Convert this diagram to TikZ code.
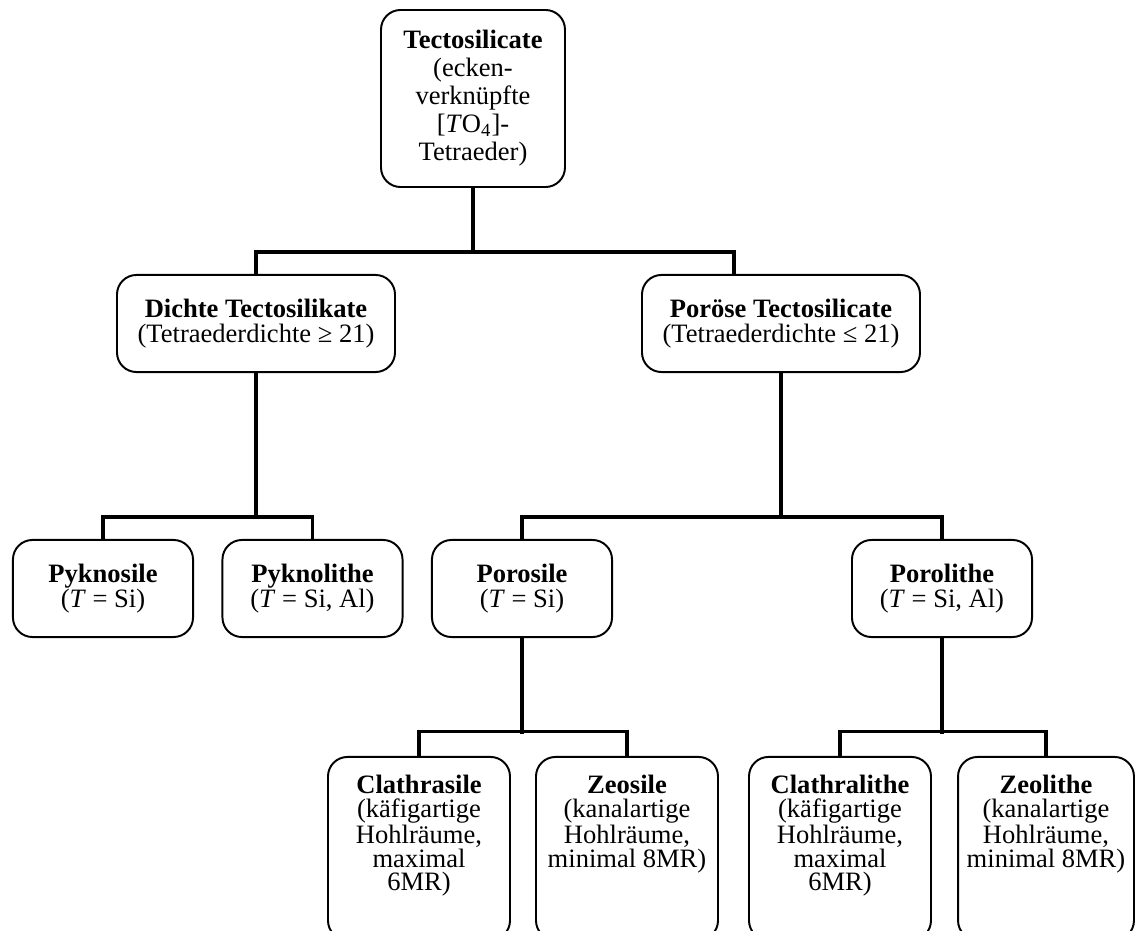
\documentclass[tikz,border=0pt]{standalone}
\usepackage{fontspec}
\setmainfont{Liberation Serif}

\tikzset{
   kasten/.style={draw, line width=0.9pt, rounded corners=9pt, inner sep=0pt, align=center,
      font=\fontsize{12.25}{11.5}\selectfont},
   obenkasten/.style={kasten, minimum width=84.9pt, minimum height=81.7pt,
      font=\fontsize{12.25}{12.9}\selectfont},
   mittekasten/.style={kasten, minimum width=128.3pt, minimum height=44.8pt},
   kleinkasten/.style={kasten, minimum width=83.1pt, minimum height=44.8pt},
   untenkasten/.style={draw, line width=0.9pt, rounded corners=9pt, inner sep=0pt,
      font=\fontsize{12.25}{10.9}\selectfont},
   ast/.style={line width=1.4pt}
}
\newcommand{\unten}[2][84pt]{\parbox[t][84.5pt][t]{#1}{\centering\vspace*{8.5pt}#2}}

\begin{document}
\begin{tikzpicture}[x=0.4615pt,y=-0.4615pt]
   \clip (0,0) rectangle (1135,931);

   \node[obenkasten] (tecto) at (473,98.5)
      {\textbf{Tectosilicate}\\(ecken-\\verknüpfte\\{[}\textit{T}O\textsubscript{4}{]}-\\Tetraeder)};

   \node[mittekasten] (dichte) at (256,323.5)
      {\textbf{Dichte Tectosilikate}\\(Tetraederdichte ≥ 21)};
   \node[mittekasten] (porose) at (781,323.5)
      {\textbf{Poröse Tectosilicate}\\(Tetraederdichte ≤ 21)};
   \coordinate (porosepin) at (734,275);

   \node[kleinkasten] (pyknosile) at (103,588.5) {\textbf{Pyknosile}\\(\textit{T} = Si)};
   \node[kleinkasten] (pyknolithe) at (312.5,588.5) {\textbf{Pyknolithe}\\(\textit{T} = Si, Al)};
   \node[kleinkasten] (porosile) at (522,588.5) {\textbf{Porosile}\\(\textit{T} = Si)};
   \node[kleinkasten] (porolithe) at (942,588.5) {\textbf{Porolithe}\\(\textit{T} = Si, Al)};

   \node[untenkasten] (clathrasile) at (419,848.5)
      {\unten{\textbf{Clathrasile}\\(käfigartige\\Hohlräume,\\maximal\\6MR)}};
   \node[untenkasten] (zeosile) at (627,848.5)
      {\unten{\textbf{Zeosile}\\(kanalartige\\Hohlräume,\\minimal 8MR)}};
   \node[untenkasten] (clathralithe) at (840,848.5)
      {\unten{\textbf{Clathralithe}\\(käfigartige\\Hohlräume,\\maximal\\6MR)}};
   \node[untenkasten] (zeolithe) at (1046,848.5)
      {\unten[81.2pt]{\textbf{Zeolithe}\\(kanalartige\\Hohlräume,\\minimal 8MR)}};

   \draw[ast] (tecto.south) -- ++(0,65);
   \draw[ast] (dichte.north) |- (734,252) -- (porosepin);

   \draw[ast] (dichte.south) -- ++(0,146);
   \draw[ast] (pyknosile.north) -- ++(0,-22) -| (pyknolithe.north);

   \draw[ast] (porose.south) -- ++(0,146);
   \draw[ast] (porosile.north) -- ++(0,-22) -| (porolithe.north);

   \draw[ast] (porosile.south) -- ++(0,96);
   \draw[ast] (clathrasile.north) -- ++(0,-24) -| (zeosile.north);

   \draw[ast] (porolithe.south) -- ++(0,96);
   \draw[ast] (clathralithe.north) -- ++(0,-24) -| (zeolithe.north);
\end{tikzpicture}
\end{document}
